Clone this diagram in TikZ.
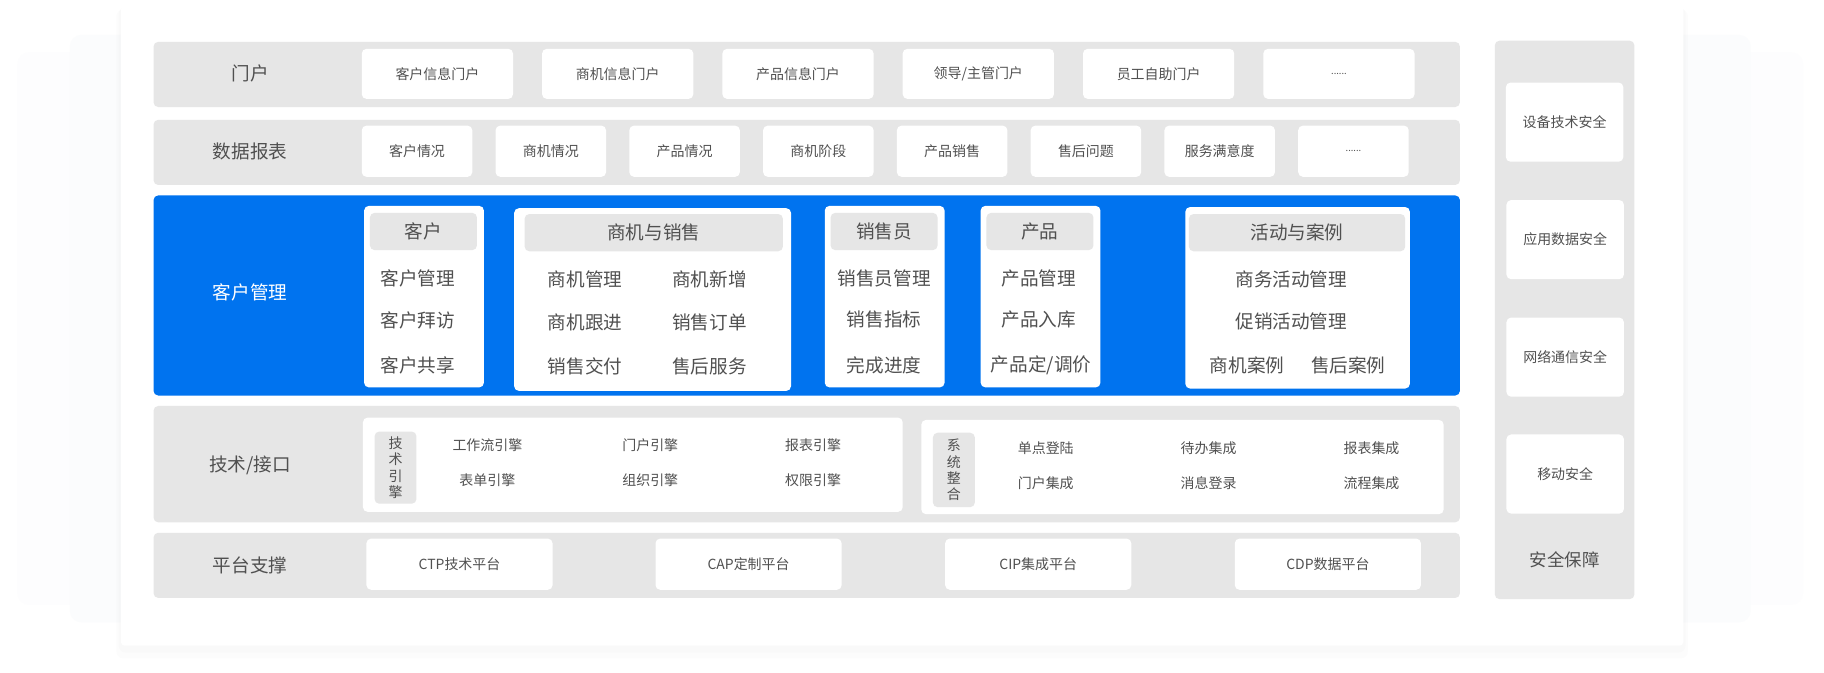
\documentclass[tikz,border=0pt]{standalone}
\usepackage{fontspec}
\setmainfont{Noto Sans CJK SC}
\definecolor{bandgray}{HTML}{E6E6E6}
\definecolor{crmblue}{HTML}{0073EF}
\definecolor{txtgray}{HTML}{505050}
\definecolor{layergray}{HTML}{FBFCFD}
\begin{document}
\begin{tikzpicture}[x=1pt,y=-1pt,
    band/.style={fill=bandgray, rounded corners=4pt, inner sep=0pt},
    cell/.style={fill=white, rounded corners=4pt, inner sep=0pt, text=txtgray, font=\fontsize{12}{12}\selectfont},
    rowlabel/.style={text=txtgray, inner sep=0pt, font=\fontsize{16}{16}\selectfont},
    panel/.style={fill=white, rounded corners=4pt, inner sep=0pt},
    panelhead/.style={fill=bandgray, rounded corners=4pt, inner sep=0pt, text=txtgray, font=\fontsize{16}{16}\selectfont},
    item/.style={text=txtgray, inner sep=0pt, font=\fontsize{16}{16}\selectfont},
    small/.style={text=txtgray, inner sep=0pt, font=\fontsize{12}{12}\selectfont},
    tag/.style={fill=bandgray, rounded corners=4pt, inner sep=0pt, text=txtgray, align=center, font=\fontsize{12}{14}\selectfont}]

            %background
            \useasboundingbox (0,0) rectangle (1568,578);
            \fill[white] (0,0) rectangle (1568,578);
            \fill[layergray!60!white, rounded corners=10pt] (15,45) rectangle (1550,520);
            \fill[layergray, rounded corners=10pt] (60,30) rectangle (1505,535);
            \fill[black, opacity=0.012, rounded corners=6pt] (100,8) rectangle (1451,566);
            \fill[black, opacity=0.012, rounded corners=6pt] (102,6) rectangle (1449,561);
            \fill[white, rounded corners=3pt] (104,5) rectangle (1447,555);

            %portal
            \node[band, minimum width=1123, minimum height=56] (portal) at (693.5,64) {};
            \node[rowlabel] (portallbl) at (215,63) {门户};
            \node[cell, minimum width=130, minimum height=43] (portal1) at (376,63.5) {客户信息门户};
            \node[cell, minimum width=130, minimum height=43] (portal2) at (531,63.5) {商机信息门户};
            \node[cell, minimum width=130, minimum height=43] (portal3) at (686,63.5) {产品信息门户};
            \node[cell, minimum width=130, minimum height=43] (portal4) at (841,63.5) {领导/主管门户};
            \node[cell, minimum width=130, minimum height=43] (portal5) at (996,63.5) {员工自助门户};
            \node[cell, minimum width=130, minimum height=43, font=\fontsize{8}{8}\selectfont] (portal6) at (1151,63.5) {......};

            %reports
            \node[band, minimum width=1123, minimum height=56] (report) at (693.5,131) {};
            \node[rowlabel] (reportlbl) at (215,130) {数据报表};
            \node[cell, minimum width=95, minimum height=44] (report1) at (358.5,130) {客户情况};
            \node[cell, minimum width=95, minimum height=44] (report2) at (473.5,130) {商机情况};
            \node[cell, minimum width=95, minimum height=44] (report3) at (588.5,130) {产品情况};
            \node[cell, minimum width=95, minimum height=44] (report4) at (703.5,130) {商机阶段};
            \node[cell, minimum width=95, minimum height=44] (report5) at (818.5,130) {产品销售};
            \node[cell, minimum width=95, minimum height=44] (report6) at (933.5,130) {售后问题};
            \node[cell, minimum width=95, minimum height=44] (report7) at (1048.5,130) {服务满意度};
            \node[cell, minimum width=95, minimum height=44, font=\fontsize{8}{8}\selectfont] (report8) at (1163.5,130) {......};

            %customer management
            \node[fill=crmblue, rounded corners=4pt, inner sep=0pt, minimum width=1123, minimum height=172] (crm) at (693.5,254) {};
            \node[rowlabel, text=white] (crmlbl) at (215,251) {客户管理};

            \node[panel, minimum width=103, minimum height=156] (client) at (364.5,255) {};
            \node[panelhead, minimum width=92, minimum height=32] (clienthead) at (364,199) {客户};
            \node[item] (client1) at (359,239) {客户管理};
            \node[item] (client2) at (359,275) {客户拜访};
            \node[item] (client3) at (359,314) {客户共享};

            \node[panel, minimum width=238, minimum height=157] (sales) at (561,257.5) {};
            \node[panelhead, minimum width=222, minimum height=32] (saleshead) at (562,200) {商机与销售};
            \node[item] (sales1) at (503,240) {商机管理};
            \node[item] (sales2) at (610,240) {商机新增};
            \node[item] (sales3) at (503,277) {商机跟进};
            \node[item] (sales4) at (610,277) {销售订单};
            \node[item] (sales5) at (503,315) {销售交付};
            \node[item] (sales6) at (610,315) {售后服务};

            \node[panel, minimum width=103, minimum height=156] (seller) at (760.5,255) {};
            \node[panelhead, minimum width=92, minimum height=32] (sellerhead) at (760,199) {销售员};
            \node[item] (seller1) at (760,239) {销售员管理};
            \node[item] (seller2) at (760,275) {销售指标};
            \node[item] (seller3) at (760,314) {完成进度};

            \node[panel, minimum width=103, minimum height=156] (product) at (894.5,255) {};
            \node[panelhead, minimum width=92, minimum height=32] (producthead) at (894,199) {产品};
            \node[item] (product1) at (893,239) {产品管理};
            \node[item] (product2) at (893,275) {产品入库};
            \node[item] (product3) at (895,314) {产品定/调价};

            \node[panel, minimum width=193, minimum height=156] (event) at (1115.5,256) {};
            \node[panelhead, minimum width=186, minimum height=32] (eventhead) at (1115,200) {活动与案例};
            \node[item] (event1) at (1110,240) {商务活动管理};
            \node[item] (event2) at (1110,276) {促销活动管理};
            \node[item] (event3) at (1072,314) {商机案例};
            \node[item] (event4) at (1159,314) {售后案例};

            %tech / interface
            \node[band, minimum width=1123, minimum height=100] (tech) at (693.5,399) {};
            \node[rowlabel] (techlbl) at (215,400) {技术/接口};

            \node[panel, minimum width=464, minimum height=81] (engine) at (544,399.5) {};
            \node[tag, minimum width=36, minimum height=62] (enginetag) at (340,402) {技\\术\\引\\擎};
            \node[small] (engine1) at (419,383) {工作流引擎};
            \node[small] (engine2) at (559,383) {门户引擎};
            \node[small] (engine3) at (699,383) {报表引擎};
            \node[small] (engine4) at (419,413) {表单引擎};
            \node[small] (engine5) at (559,413) {组织引擎};
            \node[small] (engine6) at (699,413) {权限引擎};

            \node[panel, minimum width=449, minimum height=81] (integ) at (1016.5,401.5) {};
            \node[tag, minimum width=36, minimum height=64] (integtag) at (820,404) {系\\统\\整\\合};
            \node[small] (integ1) at (899,385) {单点登陆};
            \node[small] (integ2) at (1039,385) {待办集成};
            \node[small] (integ3) at (1179,385) {报表集成};
            \node[small] (integ4) at (899,415) {门户集成};
            \node[small] (integ5) at (1039,415) {消息登录};
            \node[small] (integ6) at (1179,415) {流程集成};

            %platform
            \node[band, minimum width=1123, minimum height=56] (platform) at (693.5,486) {};
            \node[rowlabel] (platformlbl) at (215,486) {平台支撑};
            \node[cell, minimum width=160, minimum height=44] (platform1) at (395,485) {CTP技术平台};
            \node[cell, minimum width=160, minimum height=44] (platform2) at (643.5,485) {CAP定制平台};
            \node[cell, minimum width=160, minimum height=44] (platform3) at (892.5,485) {CIP集成平台};
            \node[cell, minimum width=160, minimum height=44] (platform4) at (1141.5,485) {CDP数据平台};

            %security
            \node[band, minimum width=120, minimum height=480] (safety) at (1345,275) {};
            \node[cell, minimum width=101, minimum height=68] (safety1) at (1345,105) {设备技术安全};
            \node[cell, minimum width=101, minimum height=68] (safety2) at (1345.5,206) {应用数据安全};
            \node[cell, minimum width=101, minimum height=68] (safety3) at (1345.5,307) {网络通信安全};
            \node[cell, minimum width=101, minimum height=68] (safety4) at (1345.5,407.5) {移动安全};
            \node[rowlabel, font=\fontsize{15}{15}\selectfont] (safetylbl) at (1345,481) {安全保障};
        \end{tikzpicture}
\end{document}
